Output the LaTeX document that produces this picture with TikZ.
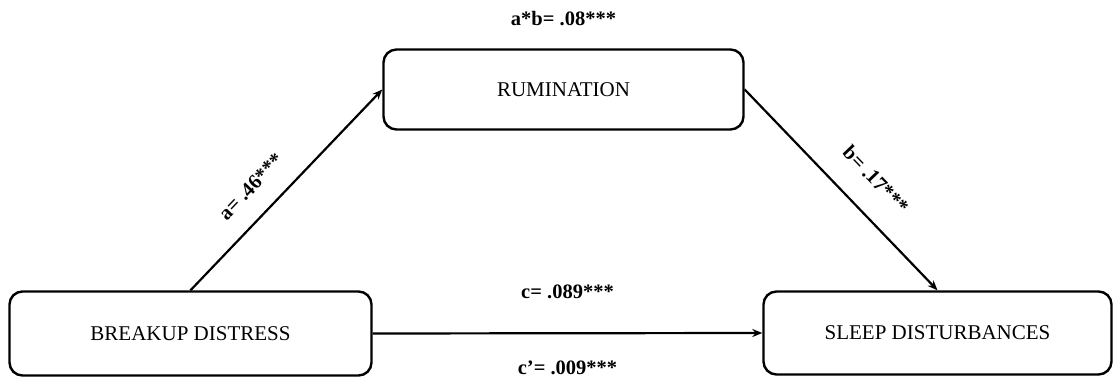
\documentclass[tikz,border=0pt]{standalone}
\usepackage{fontspec}
\setmainfont{Liberation Serif}
\usepackage{tikz}
\usetikzlibrary{positioning, arrows.meta}

\tikzset{
  varbox/.style={draw, line width=2.4pt, rounded corners=13pt, inner sep=0pt,
    font=\fontsize{21}{24}\selectfont},
  path/.style={line width=2.2pt, -{Stealth[length=10pt, width=8pt]}},
  coef/.style={font=\fontsize{20.5}{24}\selectfont\bfseries, inner sep=1pt}
}

\begin{document}
\begin{tikzpicture}[x=1pt, y=-1pt]
    \useasboundingbox (0,0) rectangle (1114,379);
    % the three variables
    \node[varbox, minimum width=362pt, minimum height=84pt] (distress) at (190.5,333.5) {BREAKUP DISTRESS};
    \node[varbox, minimum width=360pt, minimum height=80pt] (rumination) at (563.5,89.5) {RUMINATION};
    \node[varbox, minimum width=348pt, minimum height=83pt] (sleep) at (937.5,333) {SLEEP DISTURBANCES};

    % indirect effect
    \node[coef, above=21pt of rumination] (ab) {a*b= .08***};

    % paths
    \draw[path] (distress.north) -- node[coef, pos=0.42, sloped, above=19pt] {a= .46***} (rumination.west);
    \draw[path] (rumination.east) -- node[coef, pos=0.56, sloped, above=23pt] {b= .17***} (sleep.north);
    \draw[path] (distress.east) -- node[coef, midway, above=32pt] {c= .089***}
        node[coef, midway, below=26pt] {c’= .009***} (sleep.west);
\end{tikzpicture}
\end{document}
